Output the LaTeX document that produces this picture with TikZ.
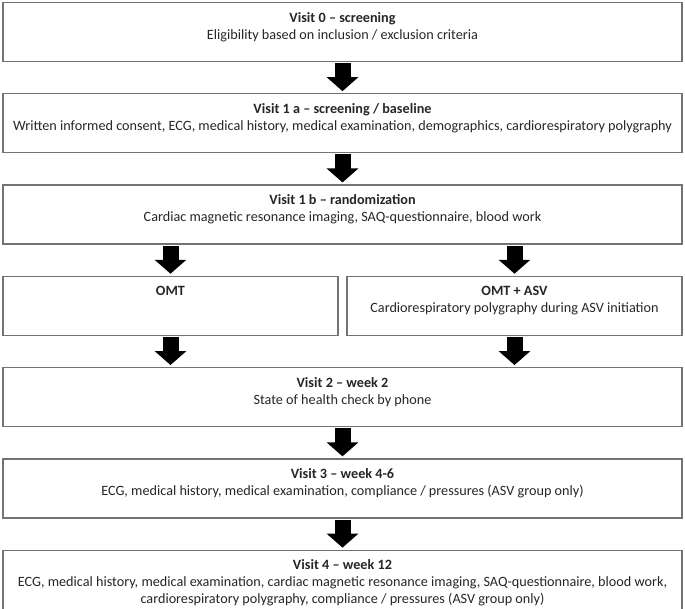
\documentclass[tikz,border=0pt]{standalone}
\usepackage{fontspec}
\setmainfont{Carlito}
\usetikzlibrary{positioning, arrows.meta}

\begin{document}
\begin{tikzpicture}[
      x=1pt, y=1pt,
      font=\fontsize{14.2}{17}\selectfont,
      node distance=31pt,
      box/.style={rectangle, draw=black!55, line width=1.3pt, minimum width=679pt, minimum height=59pt, inner sep=0pt},
      halfbox/.style={box, minimum width=335pt},
      txt/.style={align=center, inner sep=0pt, text=black!85},
      arrow/.style={line width=16pt, -{Triangle[width=31pt,length=14pt]}, shorten <=1pt, shorten >=2pt}
    ]
      \useasboundingbox (0,0) rectangle (685,-608);
      \node (v0) [box] at (342.5,-32) {};
      \node (v1a) [box, below=of v0] {};
      \node (v1b) [box, below=of v1a] {};
      \node (omt) [halfbox, below right=31pt and 0pt of v1b.south west] {};
      \node (asv) [halfbox, below left=31pt and 0pt of v1b.south east] {};
      \node (v2) [box, below right=31pt and 0pt of omt.south west] {};
      \node (v3) [box, below=of v2] {};
      \node (v4) [box, below=of v3, minimum height=60pt] {};

      \node (t0) [txt, below=10pt of v0.north] {\textbf{Visit 0 – screening}\\Eligibility based on inclusion / exclusion criteria};
      \node (t1a) [txt, below=10pt of v1a.north] {\textbf{Visit 1 a – screening / baseline}\\Written informed consent, ECG, medical history, medical examination, demographics, cardiorespiratory polygraphy};
      \node (t1b) [txt, below=10pt of v1b.north] {\textbf{Visit 1 b – randomization}\\Cardiac magnetic resonance imaging, SAQ-questionnaire, blood work};
      \node (tomt) [txt, below=10pt of omt.north] {\textbf{OMT}};
      \node (tasv) [txt, below=10pt of asv.north] {\textbf{OMT + ASV}\\Cardiorespiratory polygraphy during ASV initiation};
      \node (t2) [txt, below=10pt of v2.north] {\textbf{Visit 2 – week 2}\\State of health check by phone};
      \node (t3) [txt, below=10pt of v3.north] {\textbf{Visit 3 – week 4-6}\\ECG, medical history, medical examination, compliance / pressures (ASV group only)};
      \node (t4) [txt, below=10pt of v4.north] {\textbf{Visit 4 – week 12}\\ECG, medical history, medical examination, cardiac magnetic resonance imaging, SAQ-questionnaire, blood work,\\cardiorespiratory polygraphy, compliance / pressures (ASV group only)};

      % split and merge points
      \coordinate (splitl) at (v1b.south -| omt);
      \coordinate (splitr) at (v1b.south -| asv);
      \coordinate (mergel) at (v2.north -| omt);
      \coordinate (merger) at (v2.north -| asv);

      \draw [arrow] (v0) -- (v1a);
      \draw [arrow] (v1a) -- (v1b);
      \draw [arrow] (splitl) -- (omt);
      \draw [arrow] (splitr) -- (asv);
      \draw [arrow] (omt) -- (mergel);
      \draw [arrow] (asv) -- (merger);
      \draw [arrow] (v2) -- (v3);
      \draw [arrow] (v3) -- (v4);
    \end{tikzpicture}
\end{document}
